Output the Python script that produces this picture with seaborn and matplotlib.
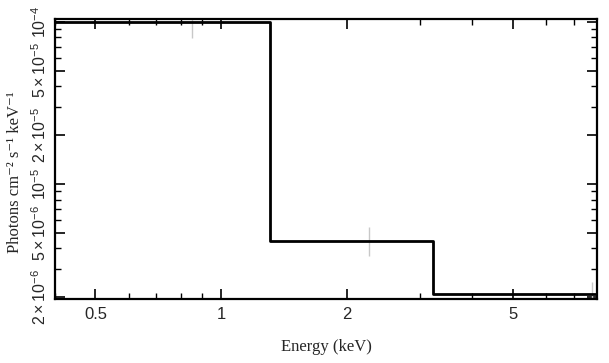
import numpy as np
import pandas as pd
import matplotlib
matplotlib.use("Agg")
import matplotlib.pyplot as plt
import seaborn as sns
from matplotlib.ticker import FixedLocator, NullFormatter, FixedFormatter

# Data
bin_edges = [0.40, 1.31, 3.21, 7.95]
model_levels = [1.0e-4, 4.45e-6, 2.09e-6]
err_x = [0.853, 2.26, 7.75]
err_y = [1.0e-4, 4.45e-6, 2.09e-6]
err_lo = [7.96e-5, 3.60e-6, 1.75e-6]
err_hi = [1.25e-4, 5.43e-6, 2.48e-6]

xtick_vals = [0.5, 1, 2, 5]
xtick_labels = ["0.5", "1", "2", "5"]
ytick_vals = [2e-6, 5e-6, 1e-5, 2e-5, 5e-5, 1e-4]
ytick_labels = [r"$2\times10^{-6}$", r"$5\times10^{-6}$", r"$10^{-5}$",
                r"$2\times10^{-5}$", r"$5\times10^{-5}$", r"$10^{-4}$"]

sns.set_style("ticks")
plt.rcParams["font.family"] = ["Liberation Sans", "DejaVu Sans"]
plt.rcParams["mathtext.fontset"] = "custom"
plt.rcParams["mathtext.rm"] = "Liberation Sans"
plt.rcParams["mathtext.it"] = "Liberation Sans:italic"

fig = plt.figure(figsize=(6.09, 3.63), dpi=100)
ax = fig.add_axes([55/609, 1-299/363, (597-55)/609, (299-19)/363])

df = pd.DataFrame({"E": bin_edges, "F": model_levels + [model_levels[-1]]})
sns.lineplot(data=df, x="E", y="F", drawstyle="steps-post", color="black",
             linewidth=2.0, sort=False, ax=ax, zorder=3)

yerr = np.array([np.array(err_y) - np.array(err_lo), np.array(err_hi) - np.array(err_y)])
ax.errorbar(err_x, err_y, yerr=yerr, fmt="none", ecolor="#c8c8c8", elinewidth=1.0,
            capsize=0, zorder=2)

ax.set_xscale("log")
ax.set_yscale("log")
ax.set_xlim(0.40, 7.95)
ax.set_ylim(1.95e-6, 1.04e-4)

ax.xaxis.set_major_locator(FixedLocator(xtick_vals))
ax.xaxis.set_major_formatter(FixedFormatter(xtick_labels))
xminor = [0.4, 0.6, 0.7, 0.8, 0.9, 3, 4, 6, 7]
ax.xaxis.set_minor_locator(FixedLocator(xminor))
ax.xaxis.set_minor_formatter(NullFormatter())

ax.yaxis.set_major_locator(FixedLocator(ytick_vals))
ax.yaxis.set_major_formatter(FixedFormatter(ytick_labels))
yminor = [3e-6, 4e-6, 6e-6, 7e-6, 8e-6, 9e-6, 3e-5, 4e-5, 6e-5, 7e-5, 8e-5, 9e-5]
ax.yaxis.set_minor_locator(FixedLocator(yminor))
ax.yaxis.set_minor_formatter(NullFormatter())

ax.tick_params(which="both", direction="in", top=True, right=True, color="black")
ax.tick_params(which="major", length=7, width=1.2)
ax.tick_params(axis="x", which="major", pad=6, labelsize=12)
ax.tick_params(axis="y", which="major", pad=4, labelsize=11.5)
ax.tick_params(which="minor", length=4, width=1.0)
for lbl in ax.get_yticklabels():
    lbl.set_rotation(90)
    lbl.set_va("center")

for s in ax.spines.values():
    s.set_linewidth(1.6)
    s.set_color("black")

ax.set_xlabel("Energy (keV)", family=["Liberation Serif", "DejaVu Serif"], fontsize=12, labelpad=12)
ax.set_ylabel("Photons cm⁻² s⁻¹ keV⁻¹", family=["Liberation Serif", "DejaVu Serif"], fontsize=12)
ax.yaxis.set_label_coords((23 - 55) / 542, (299 - 172) / 280)

fig.savefig("out.png", dpi=100)
